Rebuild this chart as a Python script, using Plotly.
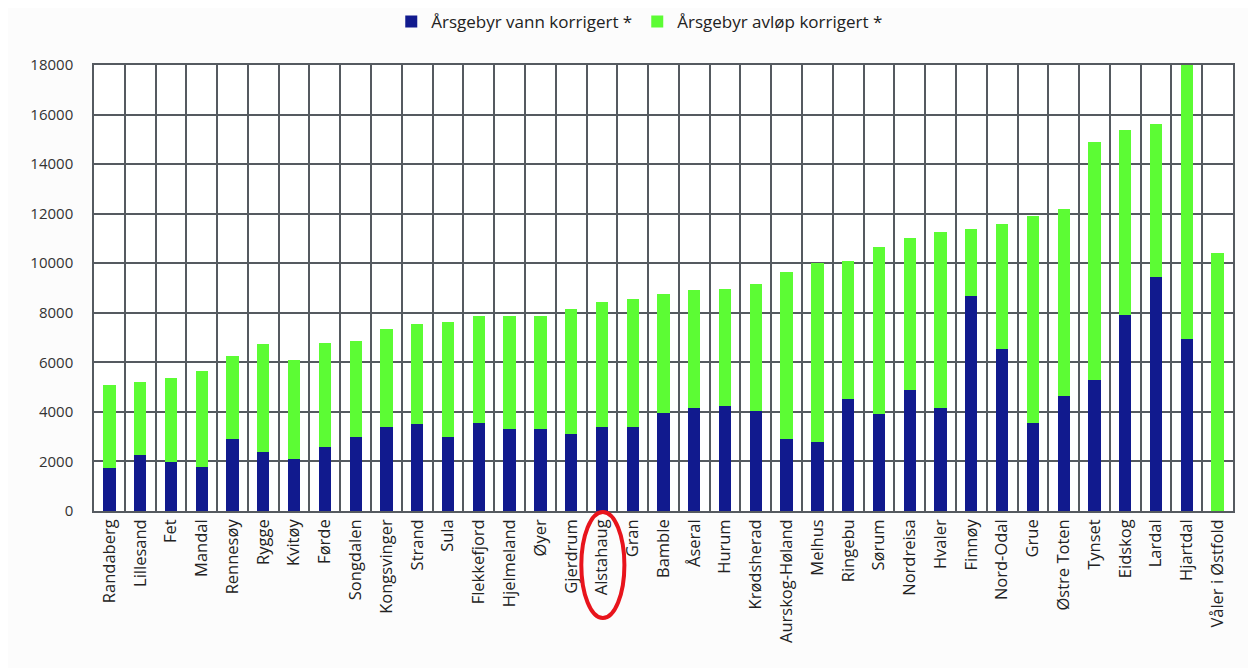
import plotly.graph_objects as go

kommuner = ["Randaberg", "Lillesand", "Fet", "Mandal", "Rennesøy", "Rygge", "Kvitøy", "Førde",
            "Songdalen", "Kongsvinger", "Strand", "Sula", "Flekkefjord", "Hjelmeland", "Øyer",
            "Gjerdrum", "Alstahaug", "Gran", "Bamble", "Åseral", "Hurum", "Krødsherad",
            "Aurskog-Høland", "Melhus", "Ringebu", "Sørum", "Nordreisa", "Hvaler", "Finnøy",
            "Nord-Odal", "Grue", "Østre Toten", "Tynset", "Eidskog", "Lardal", "Hjartdal",
            "Våler i Østfold"]

vann = [1750, 2260, 1960, 1760, 2890, 2390, 2110, 2580, 3000, 3400, 3500, 3000, 3550, 3300,
        3300, 3090, 3400, 3400, 3970, 4160, 4220, 4040, 2890, 2800, 4510, 3900, 4870, 4170,
        8690, 6520, 3550, 4640, 5290, 7920, 9440, 6930, 0]

totalt = [5085, 5220, 5350, 5640, 6255, 6725, 6095, 6795, 6860, 7330, 7560, 7620, 7875, 7870,
          7870, 8150, 8450, 8555, 8760, 8920, 8975, 9175, 9660, 10020, 10075, 10670, 11030,
          11250, 11370, 11585, 11920, 12190, 14880, 15365, 15620, 18050, 10425]

avlop = [t - v for t, v in zip(totalt, vann)]

y_ticks = list(range(0, 18001, 2000))

fig = go.Figure()
fig.add_trace(go.Bar(x=kommuner, y=vann, name="Årsgebyr vann korrigert *",
                     marker=dict(color="#111a8e", line=dict(width=0))))
fig.add_trace(go.Bar(x=kommuner, y=avlop, name="Årsgebyr avløp korrigert *",
                     marker=dict(color="#5cfc34", line=dict(width=0))))

fig.add_shape(type="circle", xref="x", yref="paper",
              x0=15.33, x1=16.73, y0=-0.002, y1=-0.24,
              line=dict(color="#e8141c", width=4), layer="above")

fig.update_layout(
    barmode="stack",
    bargap=0.6,
    width=1256, height=668,
    margin=dict(l=86, r=31, t=57, b=165, autoexpand=False),
    paper_bgcolor="#fcfcfc",
    plot_bgcolor="#ffffff",
    font=dict(family="Open Sans, sans-serif", size=14, color="#222222"),
    legend=dict(orientation="h", x=0.503, xanchor="center", xref="container",
                y=0.979, yanchor="middle", yref="container",
                font=dict(size=17), traceorder="normal", itemwidth=30),
    xaxis=dict(type="category", tickson="boundaries", tickangle=-90, automargin=False,
               showgrid=True, gridcolor="#555a60", gridwidth=1.5,
               showline=True, linecolor="#555a60", linewidth=1.5, mirror=True,
               ticks="", tickfont=dict(size=16.5)),
    yaxis=dict(range=[0, 18000], tickvals=y_ticks, tickformat="d", automargin=False,
               showgrid=True, gridcolor="#555a60", gridwidth=1.5,
               showline=True, linecolor="#555a60", linewidth=1.5, mirror=True,
               zeroline=False, ticks="", ticklabelstandoff=16,
               tickfont=dict(size=15, color="#333333")),
)

fig.write_html("out.html")
